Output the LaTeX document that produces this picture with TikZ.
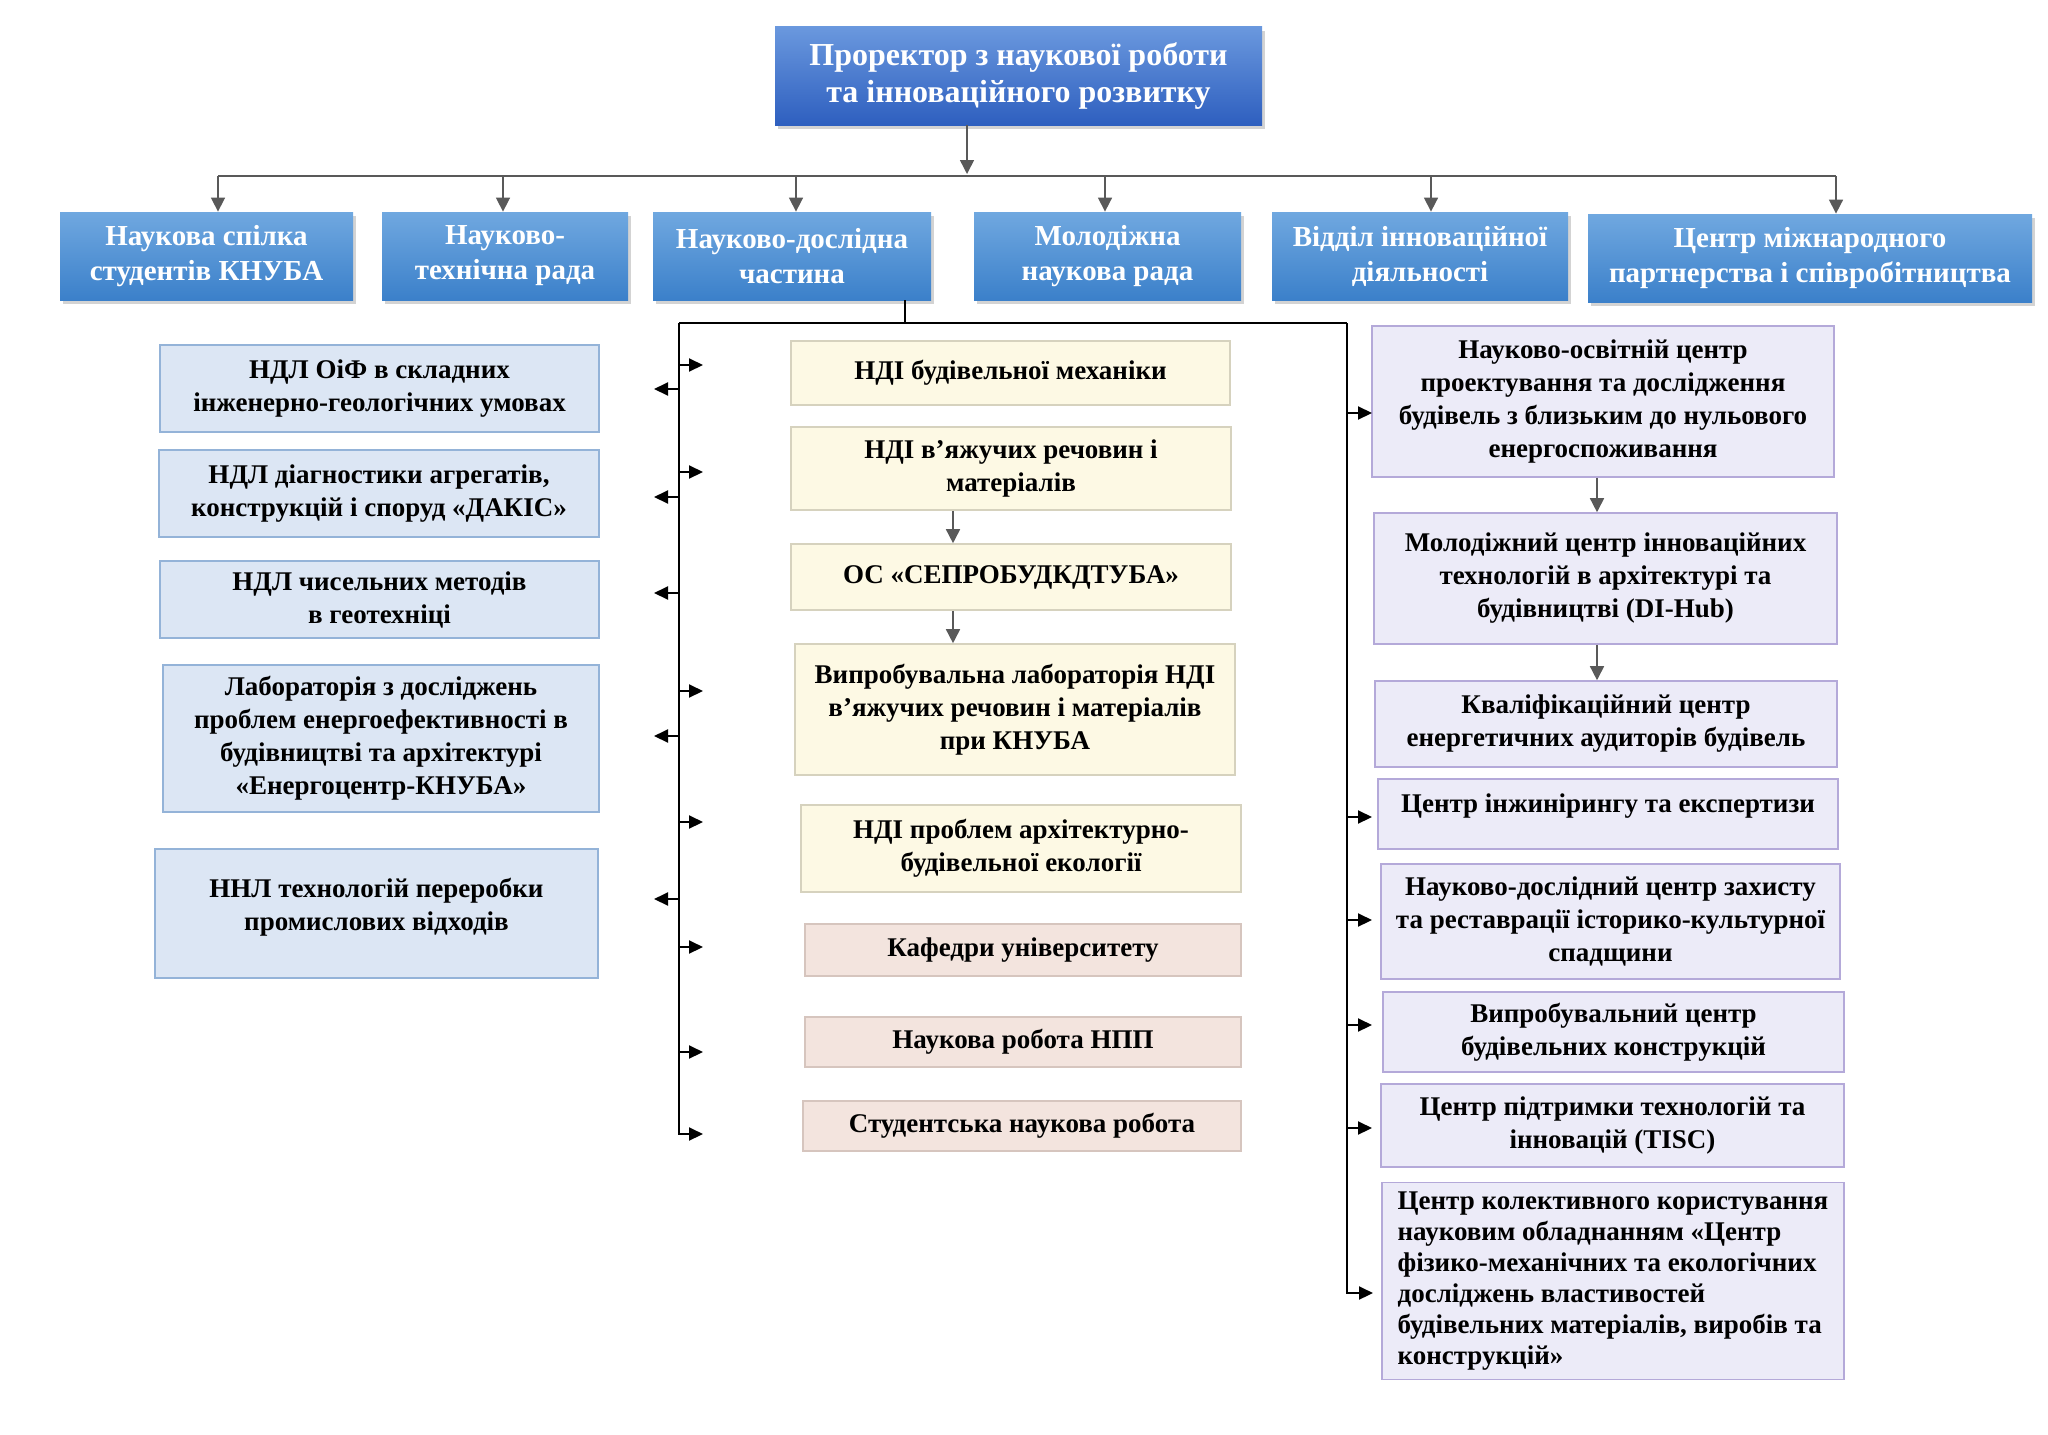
\documentclass[tikz,border=0pt]{standalone}
\usepackage{fontspec}
\setmainfont{Liberation Serif}
\usetikzlibrary{arrows.meta,shadows,calc}

\definecolor{headtop}{HTML}{6A98DE}
\definecolor{headbot}{HTML}{2E5FBF}
\definecolor{unittop}{HTML}{70A8E0}
\definecolor{unitbot}{HTML}{3B80CA}
\definecolor{labfill}{HTML}{DCE6F4}
\definecolor{labline}{HTML}{94B3D8}
\definecolor{instfill}{HTML}{FDF9E4}
\definecolor{instline}{HTML}{D6D2BE}
\definecolor{kaffill}{HTML}{F3E4DE}
\definecolor{kafline}{HTML}{D6C5BE}
\definecolor{centfill}{HTML}{ECEBF8}
\definecolor{centline}{HTML}{B4A9D9}
\definecolor{arrowgray}{HTML}{595959}

\tikzset{
  wh/.style 2 args={minimum width=#1pt, minimum height=#2pt},
  plain/.style={rectangle, align=center, inner sep=3pt, font=\bfseries\fontsize{13.5}{16.5}\selectfont},
  headbox/.style={plain, top color=headtop, bottom color=headbot, text=white,
    drop shadow={shadow xshift=1.5pt, shadow yshift=-2pt, opacity=0.35},
    font=\bfseries\fontsize{16}{18.5}\selectfont},
  unitbox/.style={plain, top color=unittop, bottom color=unitbot, text=white,
    drop shadow={shadow xshift=1.5pt, shadow yshift=-2pt, opacity=0.35},
    font=\bfseries\fontsize{14.5}{17.5}\selectfont},
  labbox/.style={plain, draw=labline, fill=labfill, line width=0.8pt},
  instbox/.style={plain, draw=instline, fill=instfill, line width=0.8pt},
  kafbox/.style={plain, draw=kafline, fill=kaffill, line width=0.8pt},
  centbox/.style={plain, draw=centline, fill=centfill, line width=0.8pt},
  gline/.style={draw=arrowgray, line width=0.8pt},
  garrow/.style={gline, -{Triangle[length=7pt,width=7pt]}},
  bline/.style={draw=black, line width=1pt},
  barrow/.style={bline, -{Triangle[length=7pt,width=6.5pt]}},
}

\begin{document}
\begin{tikzpicture}[x=0.5pt,y=-0.5pt]
\useasboundingbox (0,0) rectangle (2048,1434);

\node[headbox, wh={243.5}{49}] (title) at (1018.5,76) {Проректор з наукової роботи\\та інноваційного розвитку};

\node[unitbox, wh={146.5}{44}] (b1) at (206.5,256) {Наукова спілка\\студентів КНУБА};
\node[unitbox, wh={123}{44}] (b2) at (505,256) {Науково-\\технічна рада};
\node[unitbox, wh={139}{44}] (b3) at (792,256) {Науково-дослідна\\частина};
\node[unitbox, wh={133.5}{44}] (b4) at (1107.5,256) {Молодіжна\\наукова рада};
\node[unitbox, wh={148}{44}] (b5) at (1420,256) {Відділ інноваційної\\діяльності};
\node[unitbox, wh={222}{44}] (b6) at (1810,258) {Центр міжнародного\\партнерства і співробітництва};

\node[labbox, wh={219.5}{43.5}] (l1) at (379.5,388.5) {НДЛ ОіФ в складних\\інженерно-геологічних умовах};
\node[labbox, wh={220}{43.5}] (l2) at (379,493.5) {НДЛ діагностики агрегатів,\\конструкцій і споруд «ДАКІС»};
\node[labbox, wh={219.5}{38.5}] (l3) at (379.5,599.5) {НДЛ чисельних методів\\в геотехніці};
\node[labbox, wh={218}{73.5}] (l4) at (381,738.5) {Лабораторія з досліджень\\проблем енергоефективності в\\будівництві та архітектурі\\«Енергоцентр-КНУБА»};
\node[labbox, wh={221.5}{64.5}, text depth=9pt] (l5) at (376.5,913.5) {ННЛ технологій переробки\\промислових відходів};

\node[instbox, wh={219.5}{32}] (m1) at (1010.5,373) {НДІ будівельної механіки};
\node[instbox, wh={220}{41.5}] (m2) at (1011,468.5) {НДІ в’яжучих речовин і\\матеріалів};
\node[instbox, wh={220}{33}] (m3) at (1011,577) {ОС «СЕПРОБУДКДТУБА»};
\node[instbox, wh={220}{65.5}] (m4) at (1015,709.5) {Випробувальна лабораторія НДІ\\в’яжучих речовин і матеріалів\\при КНУБА};
\node[instbox, wh={219.75}{43.5}] (m5) at (1021,848.5) {НДІ проблем архітектурно-\\будівельної екології};
\node[kafbox, wh={218}{26}] (m6) at (1023,950) {Кафедри університету};
\node[kafbox, wh={218}{25}] (m7) at (1023,1042) {Наукова робота НПП};
\node[kafbox, wh={219}{25}] (m8) at (1022,1126) {Студентська наукова робота};

\node[centbox, wh={230.75}{75.5}] (r1) at (1603,401.5) {Науково-освітній центр\\проектування та дослідження\\будівель з близьким до нульового\\енергоспоживання};
\node[centbox, wh={231.5}{65.5}] (r2) at (1605.5,578.5) {Молодіжний центр інноваційних\\технологій в архітектурі та\\будівництві (DI-Hub)};
\node[centbox, wh={231}{43}] (r3) at (1606,724) {Кваліфікаційний центр\\енергетичних аудиторів будівель};
\node[centbox, wh={230}{35}, text depth=11pt] (r4) at (1608,814) {Центр інжинірингу та експертизи};
\node[centbox, wh={229.5}{57.5}] (r5) at (1610.5,921.5) {Науково-дослідний центр захисту\\та реставрації історико-культурної\\спадщини};
\node[centbox, wh={230.5}{40}] (r6) at (1613.5,1032) {Випробувальний центр\\будівельних конструкцій};
\node[centbox, wh={231.5}{41.5}] (r7) at (1612.5,1125.5) {Центр підтримки технологій та\\інновацій (TISC)};
\node[centbox, wh={230.75}{98.5}, align=left, font=\bfseries\fontsize{13.5}{15.5}\selectfont] (r8) at (1613,1281) {Центр колективного користування\\науковим обладнанням «Центр\\фізико-механічних та екологічних\\досліджень властивостей\\будівельних матеріалів, виробів та\\конструкцій»};

\coordinate (hub) at (967,176);
\coordinate (t1) at (218,176);
\coordinate (t2) at (503,176);
\coordinate (t3) at (796,176);
\coordinate (t4) at (1105,176);
\coordinate (t5) at (1431,176);
\coordinate (t6) at (1836,176);
\draw[garrow] (title.south -| hub) -- ([yshift=1pt]hub);
\draw[gline] (t1) -- (t6);
\foreach \i in {1,...,6}
	\draw[garrow] (t\i) -- (t\i |- b\i.north);

\coordinate (nb) at (905,323);
\coordinate (bl) at (679,323);
\coordinate (br) at (1347,323);
\draw[bline] (b3.south -| nb) -- (nb);
\draw[bline] (bl) -- (br);
\draw[barrow] (bl) -- ($(bl |- m8.west)+(0,8)$) -- ++(24,0);
\draw[barrow] (br) -- ($(br |- r8.west)+(0,12)$) -- ++(26,0);
\foreach \n/\d in {m1/-8,m2/3.5,m4/-18.5,m5/-26.5,m6/-3,m7/10}
	\draw[barrow] ($(bl |- \n.west)+(0,\d)$) -- ++(24,0);
\foreach \n/\d in {l1/0.5,l2/3.5,l3/-6.5,l4/-2.5,l5/-14.5}
	\draw[barrow] ($(bl |- \n.east)+(0,\d)$) -- ++(-25,0);
\foreach \n/\d in {r1/11.5,r4/3,r5/-1.5,r6/-7,r7/2.5}
	\draw[barrow] ($(br |- \n.west)+(0,\d)$) -- ++(25,0);

\coordinate (mx) at (953,0);
\coordinate (rx) at (1597,0);
\draw[garrow] (m2.south -| mx) -- (m3.north -| mx);
\draw[garrow] (m3.south -| mx) -- (m4.north -| mx);
\draw[garrow] (r1.south -| rx) -- (r2.north -| rx);
\draw[garrow] (r2.south -| rx) -- (r3.north -| rx);
\end{tikzpicture}
\end{document}
